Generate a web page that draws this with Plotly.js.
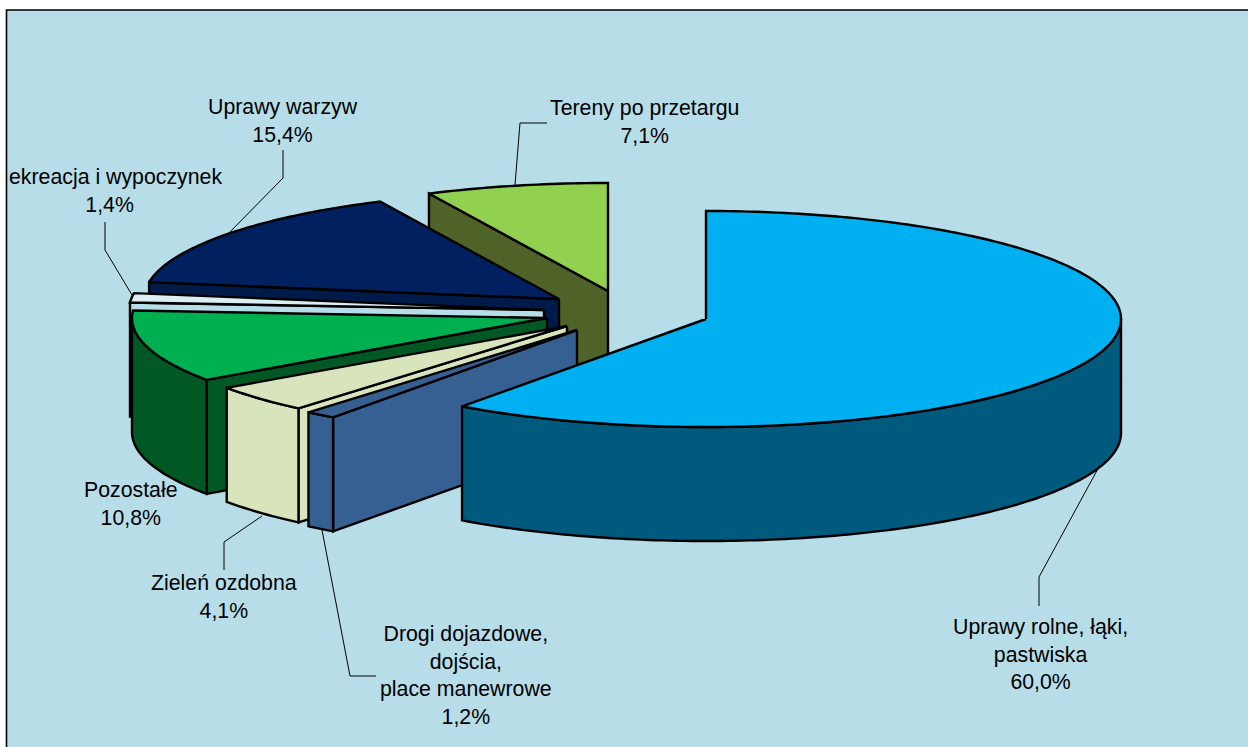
<!DOCTYPE html>
<html>
<head>
<meta charset="utf-8">
<script src="https://cdn.plot.ly/plotly-3.0.1.min.js"></script>
<style>html,body{margin:0;padding:0;background:#fff}#chart{width:1248px;height:747px}</style>
</head>
<body>
<div id="chart"></div>
<script>
// Data, clockwise from 12 o'clock
const categories = ["Uprawy rolne, łąki,<br>pastwiska","Drogi dojazdowe,<br>dojścia,<br>place manewrowe","Zieleń ozdobna","Pozostałe","ekreacja i wypoczynek","Uprawy warzyw","Tereny po przetargu"];
const values = [60.0,1.2,4.1,10.8,1.4,15.4,7.1];

// Style
const topColors  = ["#00B0F0","#376092","#D8E4BC","#00B050","#DAEEF3","#002060","#92D050"];
const sideColors = ["#005A7D","#376092","#D8E4BC","#005824","#B7DDE8","#001A4A","#4F6228"];
// Exploded apex of each slice (px)
const apexX = [706,577,567,547,544,559,608];
const apexY = [319,330,326,318,310,299,291];
// Label centre and leader lines (px)
const labelX = [1040,466,224,131,115,283,644];
const labelY = [654,675,597,504,191,121,122];
// The clipped label's value line sits left of its visible text
const valuePad = ["","","","","\u00A0\u00A0","",""];
const leadersX = [[1100,1039,1039],[322,350,376],[262,224,224],[],[132,105,105],[226,283,283],[515,520,547]];
const leadersY = [[465,577,606],[530,676,676],[516,542,570],[],[295,250,222],[236,178,150],[185,123,123]];

const RX=415, RY=108, DEPTH=114;
const rad=d=>d*Math.PI/180;
const total=values.reduce((a,b)=>a+b,0);
const traces=[];
function poly(xs,ys,fill){
  traces.push({type:"scatter",mode:"lines",x:xs.concat(xs[0]),y:ys.concat(ys[0]),fill:"toself",fillcolor:fill,
    line:{color:"#000",width:2.4,simplify:false},hoverinfo:"skip",showlegend:false});
}
const px=(i,a)=>apexX[i]+RX*Math.sin(rad(a));
const py=(i,a)=>apexY[i]-RY*Math.cos(rad(a));
function arc(i,a0,a1){const r=[];const n=Math.max(2,Math.ceil(Math.abs(a1-a0)));for(let k=0;k<=n;k++)r.push(a0+(a1-a0)*k/n);return r;}
function cut(i,a){poly([apexX[i],px(i,a),px(i,a),apexX[i]],[apexY[i],py(i,a),py(i,a)+DEPTH,apexY[i]+DEPTH],sideColors[i]);}

let start=0; const spans=values.map(v=>{const s=[start,start+v/total*360];start=s[1];return s;});
// Painter's order: back slices first, the big slice last
[6,5,4,3,2,1,0].forEach(i=>{
  const [a0,a1]=spans[i];
  if(Math.sin(rad(a0))<-1e-6) cut(i,a0);
  if(Math.sin(rad(a1))>1e-6) cut(i,a1);
  const w0=Math.max(a0,90), w1=Math.min(a1,270);
  if(w1>w0){
    const as=arc(i,w0,w1);
    const xs=as.map(a=>px(i,a)), ys=as.map(a=>py(i,a));
    poly(xs.concat(xs.slice().reverse()),ys.concat(ys.slice().reverse().map(y=>y+DEPTH)),sideColors[i]);
  }
  const as=arc(i,a0,a1);
  poly([apexX[i]].concat(as.map(a=>px(i,a))),[apexY[i]].concat(as.map(a=>py(i,a))),topColors[i]);
});
leadersX.forEach((lx,i)=>{ if(lx.length) traces.push({type:"scatter",mode:"lines",x:lx,y:leadersY[i],
  line:{color:"#000",width:1},hoverinfo:"skip",showlegend:false});});

const annotations=categories.map((c,i)=>({xref:"x",yref:"y",x:labelX[i],y:labelY[i],xanchor:"center",yanchor:"middle",
  showarrow:false,align:"center",text:c+"<br>"+values[i].toFixed(1).replace(".",",")+"%"+valuePad[i]}));

Plotly.newPlot("chart",traces,{
  width:1248,height:747,autosize:false,margin:{l:0,r:0,t:0,b:0,pad:0},
  paper_bgcolor:"#fff",plot_bgcolor:"#fff",showlegend:false,
  font:{family:"Liberation Sans, Arial, sans-serif",size:21.3,color:"#000"},
  xaxis:{range:[0,1248],visible:false,fixedrange:true},
  yaxis:{range:[747,0],visible:false,fixedrange:true},
  shapes:[{type:"rect",layer:"below",xref:"x",yref:"y",x0:6.5,y0:10,x1:1300,y1:800,fillcolor:"#B7DDE8",line:{color:"#000",width:1.6}}],
  annotations
},{displayModeBar:false,staticPlot:true});
</script>
</body>
</html>
